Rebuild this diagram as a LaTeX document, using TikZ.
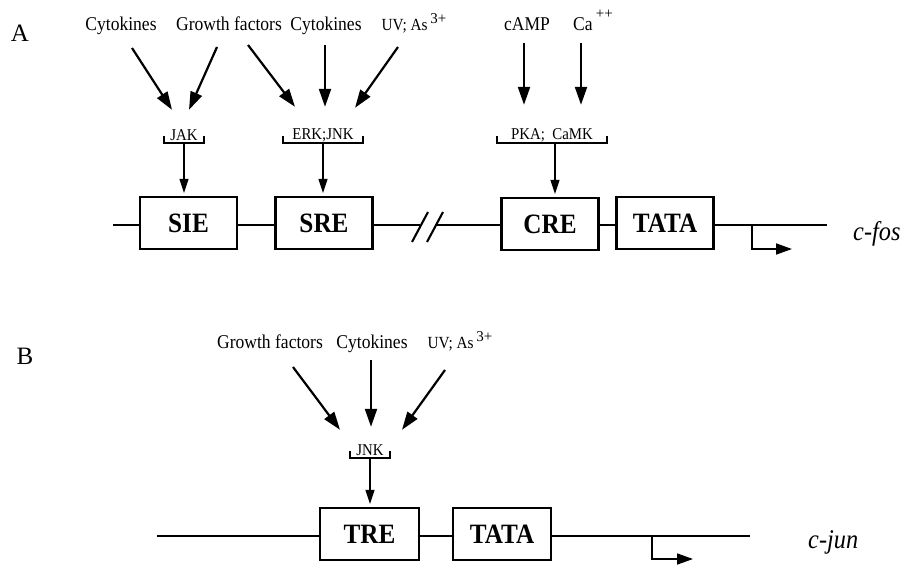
\documentclass[tikz,border=0pt]{standalone}
\usepackage{fontspec}
\setmainfont{Liberation Serif}
\usetikzlibrary{arrows.meta}
\newcommand{\supr}[2]{\,\raisebox{#1}{\fontsize{15}{15}\selectfont #2}}
\newcommand{\cond}[1]{\scalebox{0.9}[1]{#1}}
\begin{document}
\begin{tikzpicture}[x=1pt,y=-1pt,
  lab/.style={font=\fontsize{19.5}{19.5}\selectfont, inner sep=0pt, anchor=base},
  uvlab/.style={font=\fontsize{17}{17}\selectfont, inner sep=0pt, anchor=base},
  kin/.style={font=\fontsize{16.5}{16.5}\selectfont, inner sep=0pt, minimum height=16pt},
  elem/.style={draw, line width=2.1pt, minimum width=97pt, minimum height=52pt, inner sep=0pt, font=\fontsize{28}{28}\selectfont\bfseries},
  panel/.style={font=\fontsize{25}{25}\selectfont, inner sep=0pt, anchor=base},
  gname/.style={font=\fontsize{27}{27}\selectfont\itshape, inner sep=0pt, anchor=base west},
  big/.style={-{Triangle[length=18pt,width=12pt]}, line width=2.2pt},
  small/.style={-{Triangle[length=14pt,width=9pt]}, line width=1.1pt, shorten >=3pt},
  gene/.style={line width=2.1pt},
  brk/.style={line width=1.8pt},
  prom/.style={line width=1.8pt, -{Triangle[length=16pt,width=11pt]}}
]
\useasboundingbox (0,0) rectangle (909,567);

% ---------- Panel A ----------
\node[panel] (A) at (20,42) {A};
\node[lab] (cyt1) at (121,31) {\cond{Cytokines}};
\node[lab] (gf1) at (229,31) {\cond{Growth factors}};
\node[lab] (cyt2) at (326,31) {\cond{Cytokines}};
\node[uvlab] (uv1) at (414,31) {\cond{UV; As}\supr{7pt}{3+}};
\node[lab] (camp) at (527,31) {\cond{cAMP}};
\node[lab] (ca) at (593,31) {\cond{Ca}\supr{12pt}{++}};

\node[kin, minimum width=40pt] (jak) at (184,135) {\cond{JAK}};
\node[kin, minimum width=80pt] (erk) at (323,135) {\cond{ERK;JNK}};
\node[kin, minimum width=109pt] (pka) at (552,135) {\cond{PKA;\ \ CaMK}};

\foreach \k in {jak,erk,pka}{
  \draw[brk] ([yshift=7pt]\k.south west) -- (\k.south west) -- (\k.south east) -- ([yshift=7pt]\k.south east);
}

\draw[big] ([xshift=11pt,yshift=-17pt]cyt1.base) -- ([xshift=-12pt,yshift=17pt]jak.north);
\draw[big] ([xshift=-12pt,yshift=-16pt]gf1.base) -- ([xshift=5pt,yshift=17pt]jak.north);
\draw[big] ([xshift=19pt,yshift=-14pt]gf1.base) -- ([xshift=-28pt,yshift=20pt]erk.north);
\draw[big] ([xshift=-1pt,yshift=-14pt]cyt2.base) -- ([xshift=2pt,yshift=20pt]erk.north);
\draw[big] ([xshift=-16pt,yshift=-16pt]uv1.base) -- ([xshift=32pt,yshift=19pt]erk.north);
\draw[big] ([xshift=-3pt,yshift=-12pt]camp.base) -- ([xshift=-28pt,yshift=22pt]pka.north);
\draw[big] ([xshift=-12pt,yshift=-12pt]ca.base) -- ([xshift=29pt,yshift=22pt]pka.north);

\node[elem] (sie) at (188.5,223) {\cond{SIE}};
\node[elem] (sre) at (324,223) {\cond{SRE}};
\node[elem] (cre) at (550,224) {\cond{CRE}};
\node[elem] (tata1) at (665,223) {\cond{TATA}};

\draw[small] (jak.south) -- (jak.south |- sie.north);
\draw[small] (erk.south) -- (erk.south |- sre.north);
\draw[small] ([xshift=3pt]pka.south) -- ([xshift=3pt]pka.south |- cre.north);

\coordinate (a0) at (113,225);
\coordinate (a1) at (420,225);
\coordinate (a2) at (435,225);
\coordinate (a3) at (827,225);
\coordinate (pa) at (752,225);
\draw[gene] (a0) -- (a0 -| sie.west);
\draw[gene] (sie.east |- a0) -- (sre.west |- a0);
\draw[gene] (sre.east |- a0) -- (a1);
\draw[gene] (a2) -- (cre.west |- a2);
\draw[gene] (cre.east |- a2) -- (tata1.west |- a2);
\draw[gene] (tata1.east |- a3) -- (a3);
\draw[gene] ([xshift=-8pt,yshift=-17pt]a1) -- ([xshift=8pt,yshift=13pt]a1);
\draw[gene] ([xshift=-8pt,yshift=-17pt]a2) -- ([xshift=8pt,yshift=13pt]a2);
\draw[prom] (pa) -- ++(0,24) -- ++(40,0);
\node[gname] (cfos) at (853,240) {\cond{c-fos}};

% ---------- Panel B ----------
\node[panel] (B) at (25,364) {B};
\node[lab] (gf2) at (270,348) {\cond{Growth factors}};
\node[lab] (cyt3) at (372,348) {\cond{Cytokines}};
\node[uvlab] (uv2) at (460,348) {\cond{UV; As}\supr{7pt}{3+}};

\node[kin, minimum width=40pt] (jnk) at (370,450) {\cond{JNK}};
\draw[brk] ([yshift=7pt]jnk.south west) -- (jnk.south west) -- (jnk.south east) -- ([yshift=7pt]jnk.south east);

\draw[big] ([xshift=23pt,yshift=-19pt]gf2.base) -- ([xshift=-30pt,yshift=12pt]jnk.north);
\draw[big] ([xshift=-1pt,yshift=-12pt]cyt3.base) -- ([xshift=1pt,yshift=15pt]jnk.north);
\draw[big] ([xshift=-15pt,yshift=-22pt]uv2.base) -- ([xshift=32pt,yshift=12pt]jnk.north);

\node[elem, minimum width=99pt] (tre) at (369.5,534) {\cond{TRE}};
\node[elem, minimum width=98pt] (tata2) at (502,534) {\cond{TATA}};
\draw[small] (jnk.south) -- (jnk.south |- tre.north);

\coordinate (b0) at (157,536);
\coordinate (b1) at (750,536);
\coordinate (pb) at (652,536);
\draw[gene] (b0) -- (b0 -| tre.west);
\draw[gene] (tre.east |- b0) -- (tata2.west |- b0);
\draw[gene] (tata2.east |- b1) -- (b1);
\draw[prom] (pb) -- ++(0,23) -- ++(41,0);
\node[gname] (cjun) at (808,548) {\cond{c-jun}};
\end{tikzpicture}
\end{document}
